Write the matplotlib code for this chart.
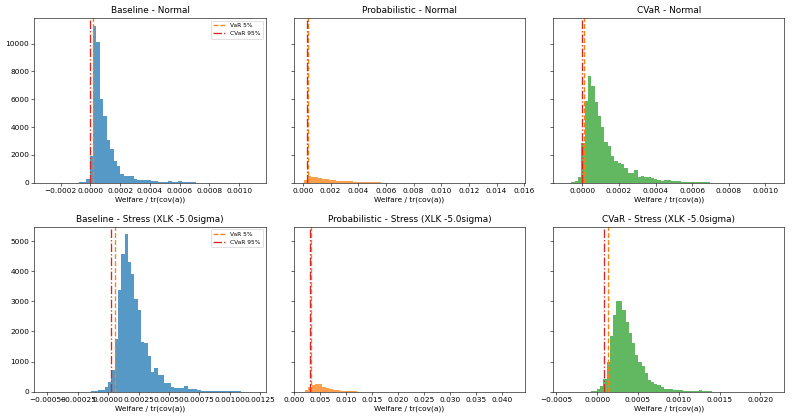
import numpy as np
import matplotlib.pyplot as plt
from matplotlib.ticker import MultipleLocator

# histogram counts, one list per panel
# (bin_start, bin_width, counts)
base_normal_start, base_normal_width = -0.000305, 0.000023
base_normal = [1, 0, 0, 0, 0, 0, 0, 0, 0, 20, 50, 70, 290, 1910, 11290, 10140, 6000, 4810,
               3100, 2400, 1570, 1220, 640, 525, 480, 480, 290, 170, 170, 170, 170, 120, 100,
               70, 50, 50, 100, 70, 50, 100, 70, 50, 30, 30, 20, 20, 15, 10, 10, 10, 5, 5,
               3, 2, 2, 2, 1, 1, 1, 1]

prob_normal_start, prob_normal_width = 0.00009, 0.000253
prob_normal = [200, 470, 440, 410, 350, 300, 250, 215, 185, 160, 145, 130, 115, 100, 90, 80,
               70, 60, 52, 45, 38, 30, 20, 14, 10, 7, 5, 4, 3, 2, 2, 1, 1, 1, 0, 1, 0, 1, 0, 0,
               1, 0, 0, 0, 0, 1, 0, 0, 0, 0, 0, 0, 0, 0, 0, 0, 0, 0, 0, 1]

cvar_normal_start, cvar_normal_width = -0.0000783, 0.0000181
cvar_normal = [20, 50, 100, 400, 2860, 5860, 7650, 6930, 5820, 4780, 4040, 2900, 2640, 1960,
               1580, 1410, 1360, 1050, 740, 740, 930, 400, 500, 450, 400, 335, 260, 170, 120,
               170, 170, 140, 120, 120, 95, 95, 70, 70, 70, 50, 40, 30, 30, 20, 20, 20, 10, 10,
               5, 5, 5, 3, 2, 2, 1]

base_stress_start, base_stress_width = -0.000138, 0.0000273
base_stress = [10, 20, 40, 60, 165, 330, 720, 1760, 3390, 4560, 5220, 4300, 3920, 3090, 2700,
               1660, 1620, 1180, 660, 770, 550, 550, 275, 275, 165, 130, 110, 110, 190, 75, 90,
               75, 55, 35, 35, 30, 25, 20, 20, 15, 15, 10, 10, 10, 8, 5, 5, 5, 5, 3, 2, 2, 1]

prob_stress_start, prob_stress_width = 0.002, 0.000675
prob_stress = [40, 150, 220, 265, 240, 150, 110, 77, 55, 40, 33, 25, 18, 12, 8, 5, 4, 3, 2, 2,
               1, 1, 0, 1, 0, 0, 0, 0, 0, 0, 0, 0, 0, 0, 0, 0, 0, 0, 0, 0, 0, 0, 0, 0, 0, 0,
               0, 0, 0, 0, 0, 0, 0, 0, 0, 0, 0, 0, 0, 1]

cvar_stress_start, cvar_stress_width = -0.0001195, 0.000039
cvar_stress = [5, 10, 20, 77, 190, 410, 990, 1840, 2540, 3000, 3000, 2700, 2320, 1950, 1600,
               1210, 990, 850, 630, 387, 330, 254, 220, 143, 100, 77, 77, 66, 66, 44, 33, 33,
               22, 22, 22, 44, 15, 10, 8, 5, 5, 3, 2, 1]

# risk lines: VaR 5% and CVaR 95%
var5 = [0.0000174, 0.00038, 0.0000100, 0.000059, 0.0032, 0.000129]
cvar95 = [-0.0000027, 0.00031, -0.000002, 0.000026, 0.00295, 0.0000805]

titles = ["Baseline - Normal", "Probabilistic - Normal", "CVaR - Normal",
          "Baseline - Stress (XLK -5.0sigma)", "Probabilistic - Stress (XLK -5.0sigma)",
          "CVaR - Stress (XLK -5.0sigma)"]

panels = [
    (base_normal_start, base_normal_width, base_normal),
    (prob_normal_start, prob_normal_width, prob_normal),
    (cvar_normal_start, cvar_normal_width, cvar_normal),
    (base_stress_start, base_stress_width, base_stress),
    (prob_stress_start, prob_stress_width, prob_stress),
    (cvar_stress_start, cvar_stress_width, cvar_stress),
]

colors = ["tab:blue", "tab:orange", "tab:green"] * 2
xlims = [(-0.000378, 0.001179), (-0.00067, 0.01606), (-0.00016, 0.001105),
         (-0.000608, 0.001297), (-0.0001, 0.0445), (-0.000541, 0.002296)]
xsteps = [0.0002, 0.002, 0.0002, 0.00025, 0.005, 0.0005]

DPI = 53
fig, axes = plt.subplots(2, 3, figsize=(792 / DPI, 419 / DPI), dpi=DPI, sharey="row")
plt.subplots_adjust(left=0.0433, right=0.9905, top=0.9578, bottom=0.0652,
                    wspace=0.121, hspace=0.2645)

for i, ax in enumerate(axes.flat):
    start, width, counts = panels[i]
    counts = np.array(counts, dtype=float)
    edges = start + width * np.arange(len(counts) + 1)
    ax.hist(edges[:-1], bins=edges, weights=counts, color=colors[i], alpha=0.75)
    ax.axvline(var5[i], color="tab:orange", linestyle="--", linewidth=1.8, label="VaR 5%")
    ax.axvline(cvar95[i], color="tab:red", linestyle="-.", linewidth=1.8, label="CVaR 95%")
    ax.xaxis.set_major_locator(MultipleLocator(xsteps[i]))
    ax.set_xlim(*xlims[i])
    ax.set_title(titles[i])
    ax.set_xlabel("Welfare / tr(cov(a))")
    if i % 3 == 0:
        ax.legend(loc="upper right", fontsize=8)

fig.savefig("out.png", dpi=DPI)
